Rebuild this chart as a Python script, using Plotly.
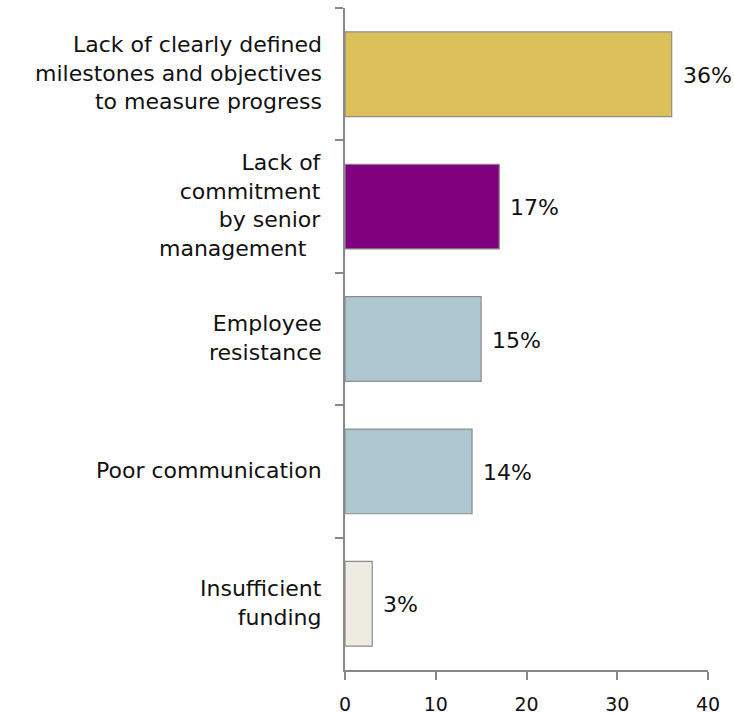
import plotly.graph_objects as go

categories = [
    "Lack of clearly defined<br>milestones and objectives<br>to measure progress",
    "Lack of<br>commitment<br>by senior<br>management\u00a0\u00a0",
    "Employee<br>resistance",
    "Poor communication",
    "Insufficient<br>funding",
]
values = [36, 17, 15, 14, 3]
colors = ["#DCC15A", "#800080", "#AEC6D0", "#AEC6D0", "#EEEBE0"]
x_ticks = [0, 10, 20, 30, 40]

FONT = "DejaVu Sans"
TXT = "#111111"

fig = go.Figure(go.Bar(
    y=categories,
    x=values,
    orientation="h",
    marker=dict(color=colors, line=dict(color="#8C8C8C", width=1.2)),
    hoverinfo="x+y",
))

annotations = []
# category labels
for cat in categories:
    annotations.append(dict(
        x=0, xref="paper", y=cat, yref="y",
        text=cat, showarrow=False, align="right",
        xanchor="right", yanchor="middle",
        xshift=-21, yshift=1,
        font=dict(size=22, family=FONT, color=TXT),
    ))
# value labels
for cat, v in zip(categories, values):
    annotations.append(dict(
        x=v, xref="x", y=cat, yref="y",
        text=f"{v}%", showarrow=False,
        xanchor="left", yanchor="middle",
        xshift=9, yshift=-1,
        font=dict(size=22, family=FONT, color=TXT),
    ))

fig.update_layout(
    width=734, height=714,
    margin=dict(l=345, r=26, t=8, b=44, autoexpand=False),
    plot_bgcolor="white", paper_bgcolor="white",
    bargap=0.36,
    showlegend=False,
    font=dict(family=FONT, color=TXT),
    annotations=annotations,
)
fig.update_xaxes(
    range=[0, 40], tickvals=x_ticks, showgrid=False, zeroline=False,
    showline=True, linecolor="#888888", linewidth=1.5,
    ticks="outside", ticklen=8, tickcolor="#888888", tickwidth=1.5,
    tickfont=dict(size=19), ticklabelstandoff=8, automargin=False,
)
fig.update_yaxes(
    autorange="reversed", showgrid=False, zeroline=False,
    showline=True, linecolor="#888888", linewidth=1.5,
    ticks="outside", ticklen=8, tickcolor="#888888", tickwidth=1.5,
    tickson="boundaries", showticklabels=False, automargin=False,
)

fig.write_html("out.html")
